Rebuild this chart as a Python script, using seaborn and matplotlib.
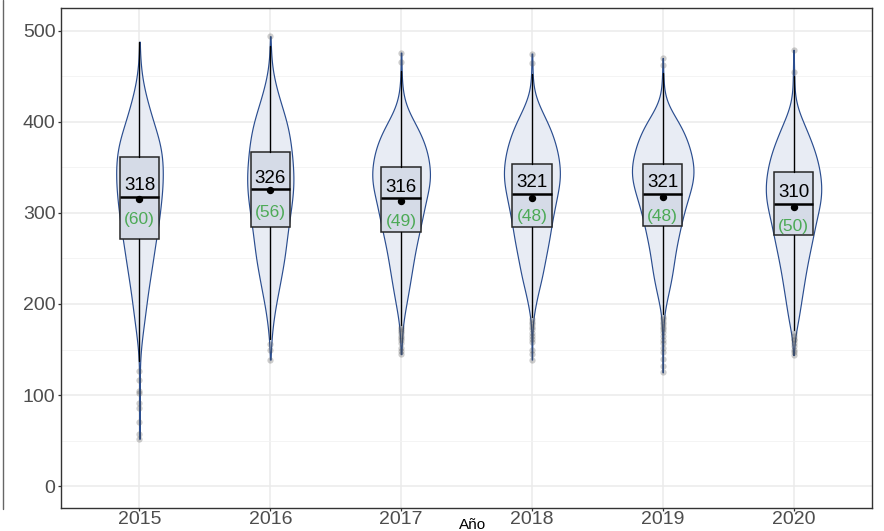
import numpy as np
import pandas as pd
import matplotlib
matplotlib.use("Agg")
import matplotlib.pyplot as plt
import seaborn as sns
from matplotlib.lines import Line2D

# ---------------- data ----------------
years = ["2015", "2016", "2017", "2018", "2019", "2020"]

# violin density profiles: value levels and their (relative) counts
lev_2015 = [52, 57, 70, 86, 91, 102, 105, 116, 126,
            140, 150, 160, 170, 180, 190, 200, 210, 220, 230, 240, 250, 260, 270, 280, 290,
            300, 310, 320, 330, 340, 350, 360, 370, 380, 390, 400, 410, 420, 430, 440, 450,
            460, 470, 480, 488]
cnt_2015 = [1, 1, 1, 1, 1, 1, 1, 1, 1,
            2, 4, 7, 11, 15, 19, 22, 26, 30, 35, 39, 44, 48, 52, 57, 62,
            65, 68, 72, 74, 75, 75, 74, 70, 64, 54, 44, 36, 27, 20, 12, 8,
            4, 2, 1, 1]

lev_2016 = [139, 150, 156,
            160, 170, 180, 190, 200, 210, 220, 230, 240, 250, 260, 270, 280, 290, 300, 310,
            320, 330, 340, 350, 360, 370, 380, 390, 400, 410, 420, 430, 440, 450, 460, 470,
            480, 494]
cnt_2016 = [1, 1, 1,
            3, 5, 9, 13, 17, 23, 29, 33, 39, 44, 47, 50, 54, 57, 62, 66,
            69, 72, 72, 70, 68, 65, 62, 57, 51, 42, 33, 24, 17, 10, 5, 3,
            2, 1]

lev_2017 = [145, 150, 160, 170, 180, 190, 200, 210, 220, 230, 240, 250, 260, 270, 280,
            290, 300, 310, 320, 330, 340, 350, 360, 370, 380, 390, 400, 410, 420, 430,
            440, 450, 460, 470, 476]
cnt_2017 = [1, 1, 2, 4, 6, 11, 16, 21, 26, 30, 35, 39, 44, 50, 56,
            62, 68, 73, 80, 87, 90, 88, 84, 78, 68, 56, 40, 24, 12, 6,
            3, 2, 1, 1, 1]

lev_2018 = [139, 150, 160, 170, 180, 190, 200, 210, 220, 230, 240, 250, 260, 270, 280,
            290, 300, 310, 320, 330, 340, 350, 360, 370, 380, 390, 400, 410, 420, 430,
            440, 450, 460, 470, 475]
cnt_2018 = [1, 1, 1, 2, 2, 7, 13, 19, 27, 35, 40, 46, 52, 58, 63,
            67, 73, 80, 85, 93, 96, 95, 91, 85, 76, 66, 52, 36, 21, 9,
            4, 2, 2, 1, 1]

lev_2019 = [125, 140, 150, 160, 170, 180, 190, 200, 210, 220, 230, 240, 250, 260, 270,
            280, 290, 300, 310, 320, 330, 340, 350, 360, 370, 380, 390, 400, 410, 420,
            430, 440, 450, 460, 470]
cnt_2019 = [1, 1, 1, 1, 2, 2, 5, 10, 17, 23, 29, 33, 37, 41, 47,
            53, 59, 66, 74, 83, 92, 98, 98, 93, 86, 77, 65, 50, 30, 14,
            5, 3, 2, 1, 1]

lev_2020 = [144, 150, 160, 170, 180, 190, 200, 210, 220, 230, 240, 250, 260, 270, 280,
            290, 300, 310, 320, 330, 340, 350, 360, 370, 380, 390, 400, 410, 420, 430,
            440, 450, 455, 460, 470, 479]
cnt_2020 = [1, 1, 3, 8, 15, 20, 24, 29, 34, 38, 44, 49, 56, 62, 68,
            74, 81, 89, 93, 93, 90, 85, 78, 69, 57, 45, 32, 18, 8, 4,
            2, 2, 1, 1, 1, 1]

# box-plot summaries
q1_vals = [271, 284, 279, 285, 286, 276]
median_vals = [318, 326, 316, 321, 321, 310]
q3_vals = [361, 367, 350, 354, 354, 345]
mean_vals = [315, 325, 313, 316.5, 317, 307]
whisker_low = [137, 162, 177, 186, 189, 171]
whisker_high = [488, 483, 456, 452, 454, 450]
fliers_2015 = [52, 57, 70, 86, 91, 102, 105, 116, 126]
fliers_2016 = [139, 150, 156, 494]
fliers_2017 = [145, 148, 152, 157, 160, 163, 165, 168, 170, 172, 175, 466, 476]
fliers_2018 = [139, 145, 150, 158, 162, 165, 168, 172, 175, 178, 180, 183, 465, 475]
fliers_2019 = [125, 132, 140, 147, 152, 157, 161, 165, 169, 172, 175, 178, 180, 183, 186, 462, 470]
fliers_2020 = [144, 147, 150, 154, 157, 160, 162, 165, 168, 455, 479]

median_labels = ["318", "326", "316", "321", "321", "310"]
sd_labels = ["(60)", "(56)", "(49)", "(48)", "(48)", "(50)"]

# ---------------- style ----------------
sns.set_theme(style="white")
plt.rcParams['font.family'] = ['Liberation Sans', 'DejaVu Sans']

W, H = 884, 531
fig = plt.figure(figsize=(W / 100, H / 100), dpi=100)
left, right, top, bottom = 61, 872, 8, 508
ax = fig.add_axes([left / W, 1 - bottom / H, (right - left) / W, (bottom - top) / H])

levels = [lev_2015, lev_2016, lev_2017, lev_2018, lev_2019, lev_2020]
counts = [cnt_2015, cnt_2016, cnt_2017, cnt_2018, cnt_2019, cnt_2020]
frames = [pd.DataFrame({"year": y, "value": np.repeat(lv, ct)})
          for y, lv, ct in zip(years, levels, counts)]
df = pd.concat(frames, ignore_index=True)

sns.violinplot(data=df, x="year", y="value", order=years, inner=None, cut=0,
               density_norm="area", width=0.47, bw_method=0.2,
               color="#E8ECF4", linecolor="#2A4D8F", linewidth=0.85,
               saturation=1, ax=ax)

fliers = [fliers_2015, fliers_2016, fliers_2017, fliers_2018, fliers_2019, fliers_2020]
stats = []
for i in range(len(years)):
    stats.append(dict(q1=q1_vals[i], med=median_vals[i], q3=q3_vals[i],
                      whislo=whisker_low[i], whishi=whisker_high[i],
                      mean=mean_vals[i], fliers=fliers[i]))

ax.bxp(stats, positions=np.arange(len(years)), widths=0.3, showmeans=True,
       showcaps=False, patch_artist=True, manage_ticks=False,
       boxprops=dict(facecolor="#D5DBE7", edgecolor="#262626", linewidth=1.1),
       medianprops=dict(color="black", linewidth=1.8),
       whiskerprops=dict(color="black", linewidth=1.0),
       meanprops=dict(marker="o", markerfacecolor="black", markeredgecolor="black",
                      markersize=4.3),
       flierprops=dict(marker="o", markerfacecolor="#4d4d4d", markeredgecolor="none",
                       markersize=4.5, alpha=0.28))

for i in range(len(years)):
    ax.text(i, median_vals[i] + 12, median_labels[i], ha="center", va="center",
            fontsize=13.5, color="black", zorder=6)
    ax.text(i, median_vals[i] - 25, sd_labels[i], ha="center", va="center",
            fontsize=12.5, color="#4DAA57", zorder=6)

ax.set_xlim(-0.6, 5.6)
ax.set_ylim(-24, 525)
ax.set_xticks(np.arange(len(years)))
ax.set_xticklabels(years)
ax.set_yticks([0, 100, 200, 300, 400, 500])
ax.set_yticks([50, 150, 250, 350, 450], minor=True)
ax.set_axisbelow(True)
ax.grid(True, which="major", axis="both", color="#EBEBEB", linewidth=1.1)
ax.grid(True, which="minor", axis="y", color="#F2F2F2", linewidth=0.6)
ax.set_xlabel("")
ax.set_ylabel("")

for s in ax.spines.values():
    s.set_visible(True)
    s.set_color("#333333")
    s.set_linewidth(1.0)

ax.tick_params(axis="both", which="major", length=2.5, width=0.9, color="#333333",
               labelcolor="#4D4D4D", labelsize=14, bottom=True, left=True)
ax.tick_params(axis="x", which="major", pad=0)
ax.tick_params(axis="y", which="major", pad=1.5)
ax.tick_params(axis="y", which="minor", length=0)

fig.text(473 / W, 1 - 525 / H, "Año", ha="center", va="center", fontsize=11, color="black")
fig.add_artist(Line2D([2.5 / W, 2.5 / W], [1 - 509 / H, 1.0], color="#666666", lw=1.0))

fig.savefig("out.png", dpi=100)
